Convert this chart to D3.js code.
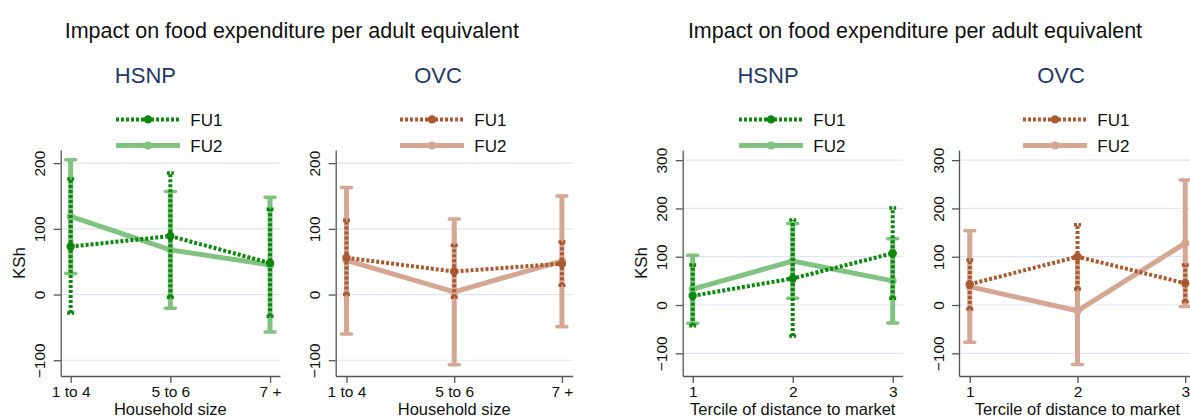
<!DOCTYPE html>
<html>
<head>
<meta charset="utf-8">
<script src="https://cdn.jsdelivr.net/npm/d3@7"></script>
<style>
  body { margin: 0; background: #fff; }
  svg { display: block; font-family: 'Liberation Sans', Arial, sans-serif; }
</style>
</head>
<body>
<script>
// categories and ticks
const sizeLabels = ['1 to 4', '5 to 6', '7 +'];
const tercileLabels = ['1', '2', '3'];
const sizeTicks = [-100, 0, 100, 200];
const tercileTicks = [-100, 0, 100, 200, 300];
const seriesNames = ['FU1', 'FU2'];

// HSNP by household size
const hsnpSizeFU1 = [73, 89, 48];
const hsnpSizeFU1Lo = [-28, -4, -33];
const hsnpSizeFU1Hi = [176, 185, 130];
const hsnpSizeFU2 = [119, 68, 45];
const hsnpSizeFU2Lo = [32, -21, -57];
const hsnpSizeFU2Hi = [205, 157, 148];

// OVC by household size
const ovcSizeFU1 = [56, 35, 47];
const ovcSizeFU1Lo = [0, -4, 14];
const ovcSizeFU1Hi = [113, 75, 80];
const ovcSizeFU2 = [52, 4, 51];
const ovcSizeFU2Lo = [-60, -107, -49];
const ovcSizeFU2Hi = [163, 115, 150];

// HSNP by tercile of distance to market
const hsnpDistFU1 = [19, 55, 107];
const hsnpDistFU1Lo = [-43, -64, 14];
const hsnpDistFU1Hi = [83, 176, 201];
const hsnpDistFU2 = [33, 91, 50];
const hsnpDistFU2Lo = [-38, 14, -37];
const hsnpDistFU2Hi = [103, 169, 137];

// OVC by tercile of distance to market
const ovcDistFU1 = [43, 100, 45];
const ovcDistFU1Lo = [-8, 33, 7];
const ovcDistFU1Hi = [93, 166, 83];
const ovcDistFU2 = [38, -12, 128];
const ovcDistFU2Lo = [-77, -123, -3];
const ovcDistFU2Hi = [154, 99, 259];

const titleText = 'Impact on food expenditure per adult equivalent';

let svg = d3.select('body').append('svg')
  .attr('width', 1190)
  .attr('height', 419);

const green = ['#0b880b', '#80c280'];
const brown = ['#aa5a30', '#d5a692'];
let plotTop = 150, plotBottom = 376;

let panels = [
  { x0: 60.7, x1: 280, labels: sizeLabels, ticks: sizeTicks, yDomain: [-124, 220],
    xTitle: 'Household size', ksh: true, prog: 'HSNP', progX: 145.4, legX: 116, col: green,
    series: [[hsnpSizeFU1, hsnpSizeFU1Lo, hsnpSizeFU1Hi], [hsnpSizeFU2, hsnpSizeFU2Lo, hsnpSizeFU2Hi]] },
  { x0: 335.7, x1: 572.7, labels: sizeLabels, ticks: sizeTicks, yDomain: [-124, 220],
    xTitle: 'Household size', ksh: false, prog: 'OVC', progX: 438, legX: 400, col: brown,
    series: [[ovcSizeFU1, ovcSizeFU1Lo, ovcSizeFU1Hi], [ovcSizeFU2, ovcSizeFU2Lo, ovcSizeFU2Hi]] },
  { x0: 682.7, x1: 902.7, labels: tercileLabels, ticks: tercileTicks, yDomain: [-147, 321],
    xTitle: 'Tercile of distance to market', ksh: true, prog: 'HSNP', progX: 768, legX: 739, col: green,
    series: [[hsnpDistFU1, hsnpDistFU1Lo, hsnpDistFU1Hi], [hsnpDistFU2, hsnpDistFU2Lo, hsnpDistFU2Hi]] },
  { x0: 959, x1: 1196, labels: tercileLabels, ticks: tercileTicks, yDomain: [-147, 321],
    xTitle: 'Tercile of distance to market', ksh: false, prog: 'OVC', progX: 1061, legX: 1023, col: brown,
    series: [[ovcDistFU1, ovcDistFU1Lo, ovcDistFU1Hi], [ovcDistFU2, ovcDistFU2Lo, ovcDistFU2Hi]] }
];

// big titles, one per graph pair
[291.8, 915].forEach(cx => {
  svg.append('text')
    .attr('x', cx).attr('y', 38.3)
    .attr('text-anchor', 'middle')
    .style('font-size', '21.5px')
    .attr('fill', '#111')
    .text(titleText);
});

// FU1 dotted dark, FU2 solid light
const styles = [
  { width: 4, dash: '3,2', r: 4.2, cap: 7 },
  { width: 5, dash: null, r: 4, cap: 10 }
];

panels.forEach(p => {
  let x = d3.scalePoint().domain(p.labels).range([p.x0, p.x1]).padding(0.1);
  let y = d3.scaleLinear().domain(p.yDomain).range([plotBottom, plotTop]);
  let g = svg.append('g');

  // program label
  svg.append('text')
    .attr('x', p.progX).attr('y', 83.4)
    .attr('text-anchor', 'middle')
    .style('font-size', '22px')
    .attr('fill', '#1f3864')
    .text(p.prog);

  // legend
  seriesNames.forEach((name, k) => {
    let s = styles[k];
    let ly = 119.4 + k * 26;
    let lg = svg.append('g');
    lg.append('line')
      .attr('x1', p.legX).attr('x2', p.legX + 64)
      .attr('y1', ly).attr('y2', ly)
      .attr('stroke', p.col[k])
      .attr('stroke-width', s.width)
      .attr('stroke-dasharray', s.dash);
    lg.append('circle')
      .attr('cx', p.legX + 32).attr('cy', ly)
      .attr('r', s.r)
      .attr('fill', p.col[k]);
    lg.append('text')
      .attr('x', p.legX + 74.3).attr('y', ly + 6.2)
      .style('font-size', '17px')
      .attr('fill', '#111')
      .text(name);
  });

  // grid
  g.selectAll('.grid').data(p.ticks).join('line')
    .attr('x1', p.x0).attr('x2', p.x1)
    .attr('y1', d => y(d)).attr('y2', d => y(d))
    .attr('stroke', '#dfe6f1')
    .attr('stroke-width', 1.2);

  // series, FU2 below FU1
  [1, 0].forEach(k => {
    let s = styles[k];
    let [est, lo, hi] = p.series[k];
    let col = p.col[k];
    let sg = g.append('g');
    let pts = est.map((v, i) => ({ cat: p.labels[i], v: v, lo: lo[i], hi: hi[i] }));

    sg.append('path')
      .datum(pts)
      .attr('d', d3.line().x(d => x(d.cat)).y(d => y(d.v)))
      .attr('fill', 'none')
      .attr('stroke', col)
      .attr('stroke-width', s.width)
      .attr('stroke-dasharray', s.dash);

    sg.selectAll('.ci').data(pts).join('line')
      .attr('x1', d => x(d.cat)).attr('x2', d => x(d.cat))
      .attr('y1', d => y(d.lo)).attr('y2', d => y(d.hi))
      .attr('stroke', col)
      .attr('stroke-width', s.width)
      .attr('stroke-dasharray', s.dash);

    ['lo', 'hi'].forEach(end => {
      sg.selectAll('.cap-' + end).data(pts).join('line')
        .attr('x1', d => x(d.cat) - s.cap / 2).attr('x2', d => x(d.cat) + s.cap / 2)
        .attr('y1', d => y(d[end])).attr('y2', d => y(d[end]))
        .attr('stroke', col)
        .attr('stroke-width', 3.5)
        .attr('stroke-dasharray', k === 0 ? '3,1.5' : null)
        .attr('stroke-linecap', k === 0 ? 'butt' : 'round');
    });

    sg.selectAll('circle').data(pts).join('circle')
      .attr('cx', d => x(d.cat)).attr('cy', d => y(d.v))
      .attr('r', s.r)
      .attr('fill', col);
  });

  // axes
  let ax = g.append('g')
    .attr('transform', `translate(0,${plotBottom})`)
    .call(d3.axisBottom(x).tickSize(7).tickSizeOuter(0).tickPadding(3));
  let ay = g.append('g')
    .attr('transform', `translate(${p.x0},0)`)
    .call(d3.axisLeft(y).tickValues(p.ticks).tickSize(7).tickSizeOuter(0));
  [ax, ay].forEach(a => {
    a.selectAll('path, line').attr('stroke', '#555').attr('stroke-width', 1.3);
    a.selectAll('text').attr('fill', '#111').style('font-size', '15.5px')
      .style('font-family', "'Liberation Sans', Arial, sans-serif");
  });
  ay.selectAll('text')
    .attr('transform', 'rotate(-90)')
    .attr('x', 0).attr('y', -15.5).attr('dy', 0)
    .attr('text-anchor', 'middle');

  // x title
  svg.append('text')
    .attr('x', (p.x0 + p.x1) / 2).attr('y', 415.4)
    .attr('text-anchor', 'middle')
    .style('font-size', '16.5px')
    .attr('fill', '#111')
    .text(p.xTitle);

  if (p.ksh) {
    svg.append('text')
      .attr('transform', `translate(${p.x0 - 35.5},${(plotTop + plotBottom) / 2}) rotate(-90)`)
      .attr('text-anchor', 'middle')
      .style('font-size', '17px')
      .attr('fill', '#111')
      .text('KSh');
  }
});
</script>
</body>
</html>
